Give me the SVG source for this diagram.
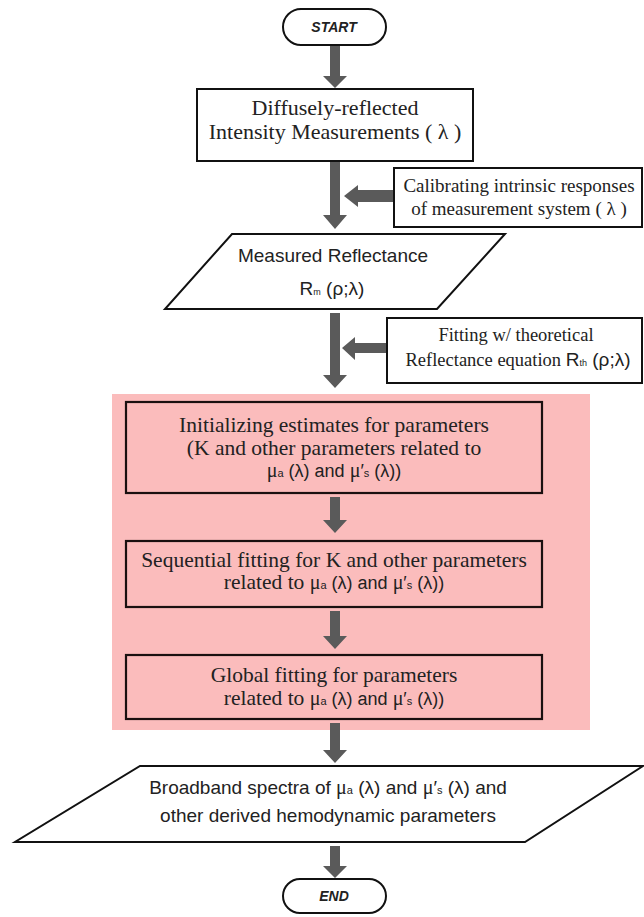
<svg xmlns="http://www.w3.org/2000/svg" width="644" height="917" viewBox="0 0 644 917">
<style>
.box{fill:#fff;stroke:#111;stroke-width:2}
.pbox{fill:#fbbcbc;stroke:#1a1010;stroke-width:2.2}
.arr{fill:#5a5a5a}
.serif{font-family:"Liberation Serif","Times New Roman",serif;fill:#222}
.sans{font-family:"Liberation Sans",Arial,sans-serif;fill:#222}
.term{font-family:"Liberation Sans",Arial,sans-serif;font-weight:bold;font-style:italic;font-size:14px;fill:#222}
</style>
<rect width="644" height="917" fill="#fff"/>
<g id="pink-region"><rect x="112" y="394" width="478" height="336" fill="#fbbcbc"/></g>
<g id="connectors">
<path class="arr" d="M330,45 H340 V76 H347 L335,88 L323,76 H330 Z"/>
<path class="arr" d="M330,161 H340 V215 H347 L335,229 L323,215 H330 Z"/>
<path class="arr" d="M394,190 V202 H358 V207 L344,196 L358,185 V190 Z"/>
<path class="arr" d="M330,313 H340 V375 H347 L335,388 L323,375 H330 Z"/>
<path class="arr" d="M387,343 V353 H355 V360 L342,348 L355,337 V343 Z"/>
<path class="arr" d="M330,497 H340 V520 H347 L335,533 L323,520 H330 Z"/>
<path class="arr" d="M330,611 H340 V636 H347 L335,649 L323,636 H330 Z"/>
<path class="arr" d="M330,723 H340 V750 H347 L335,763 L323,750 H330 Z"/>
<path class="arr" d="M330,846 H340 V866 H347 L335,878 L323,866 H330 Z"/>
</g>
<g id="start">
<rect class="box" x="283" y="9" width="103" height="36" rx="18"/>
<text class="term" x="334" y="32" text-anchor="middle">START</text>
</g>
<g id="measurements">
<rect class="box" x="197" y="89" width="276" height="72"/>
<text class="serif" font-size="22" text-anchor="middle"><tspan x="335" y="115">Diffusely-reflected</tspan><tspan x="335" y="139">Intensity Measurements ( λ )</tspan></text>
</g>
<g id="calibrating">
<rect class="box" x="394" y="168" width="248" height="59"/>
<text class="serif" font-size="19" text-anchor="middle"><tspan x="519" y="192">Calibrating intrinsic responses</tspan><tspan x="519" y="215">of measurement system ( λ )</tspan></text>
</g>
<g id="measured-reflectance">
<polygon class="box" points="232,234 505,234 437,309 165,309"/>
<text class="sans" font-size="19" x="333" y="262" text-anchor="middle">Measured Reflectance</text>
<text class="sans" font-size="19" x="332" y="295" text-anchor="middle">R<tspan font-size="9">m</tspan> (ρ;λ)</text>
</g>
<g id="fitting">
<rect class="box" x="387" y="318" width="255" height="65"/>
<text class="serif" font-size="18.5" x="516" y="341" text-anchor="middle">Fitting w/ theoretical</text>
<text class="serif" font-size="18.5" x="518" y="366" text-anchor="middle">Reflectance equation  <tspan class="sans" font-size="19">R<tspan font-size="9">th</tspan> (ρ;λ)</tspan></text>
</g>
<g id="initializing">
<rect class="pbox" x="126" y="402" width="416" height="91"/>
<text class="serif" font-size="21.5" text-anchor="middle"><tspan x="334" y="432">Initializing estimates for parameters</tspan><tspan x="334" y="455">(K and other parameters related to</tspan></text>
<text class="sans" font-size="18" x="334" y="477" text-anchor="middle"><tspan class="serif" font-size="20">μ</tspan><tspan font-size="11">a</tspan> (λ) and <tspan class="serif" font-size="20">μ</tspan>′<tspan font-size="11">s</tspan> (λ))</text>
</g>
<g id="sequential">
<rect class="pbox" x="126" y="541" width="416" height="66"/>
<text class="serif" font-size="21.5" x="334" y="567" text-anchor="middle">Sequential fitting for K and other parameters</text>
<text class="sans" font-size="18" x="334" y="589" text-anchor="middle"><tspan class="serif" font-size="21.5">related to </tspan><tspan class="serif" font-size="20">μ</tspan><tspan font-size="11">a</tspan> (λ) and <tspan class="serif" font-size="20">μ</tspan>′<tspan font-size="11">s</tspan> (λ))</text>
</g>
<g id="global">
<rect class="pbox" x="126" y="655" width="416" height="64"/>
<text class="serif" font-size="21.5" x="334" y="682" text-anchor="middle">Global fitting for parameters</text>
<text class="sans" font-size="18" x="334" y="705" text-anchor="middle"><tspan class="serif" font-size="21.5">related to </tspan><tspan class="serif" font-size="20">μ</tspan><tspan font-size="11">a</tspan> (λ) and <tspan class="serif" font-size="20">μ</tspan>′<tspan font-size="11">s</tspan> (λ))</text>
</g>
<g id="broadband">
<polygon class="box" points="140,766 643,766 525,842 15,842"/>
<text class="sans" font-size="19" x="328" y="794" text-anchor="middle">Broadband spectra of <tspan class="serif" font-size="20">μ</tspan><tspan font-size="11">a</tspan> (λ) and <tspan class="serif" font-size="20">μ</tspan>′<tspan font-size="11">s</tspan> (λ) and</text>
<text class="sans" font-size="19" x="328" y="822" text-anchor="middle">other derived hemodynamic parameters</text>
</g>
<g id="end">
<rect class="box" x="283" y="879" width="103" height="34" rx="17"/>
<text class="term" x="334" y="901" text-anchor="middle">END</text>
</g>
</svg>
